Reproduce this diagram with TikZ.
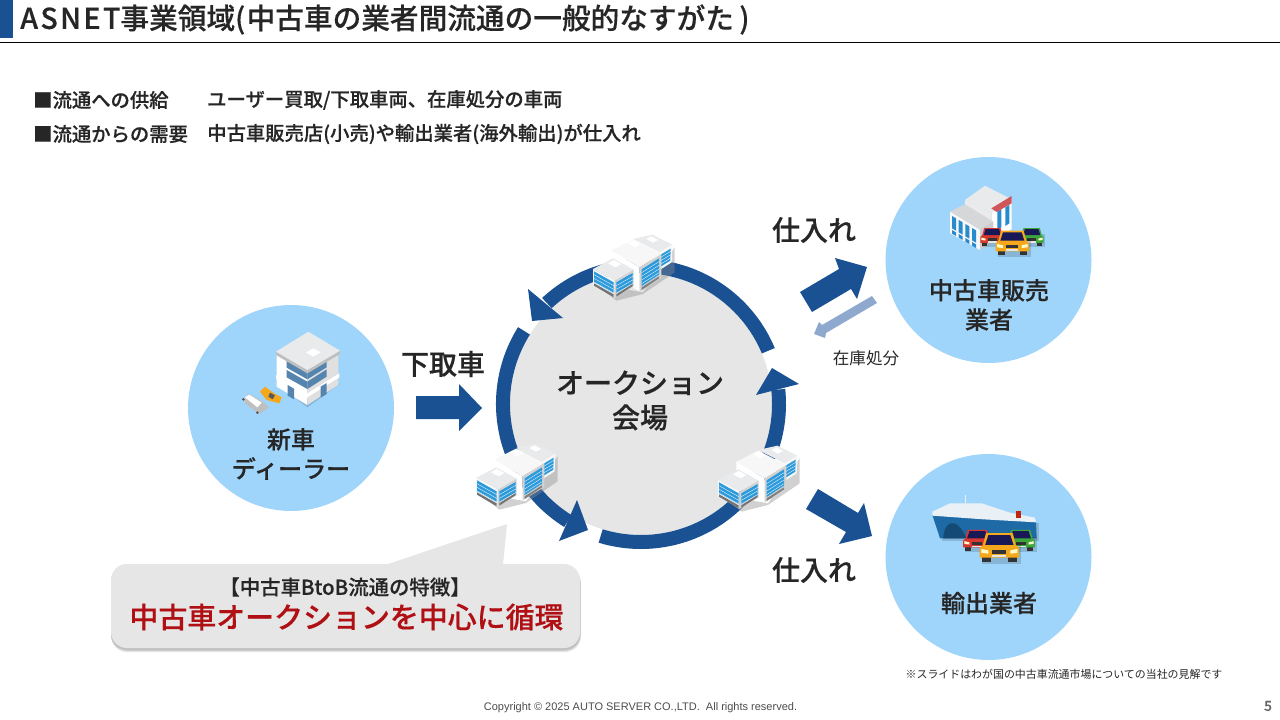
\documentclass[tikz,border=0pt]{standalone}
\usepackage{fontspec}
\setmainfont{Noto Sans CJK JP}[BoldFont={Noto Sans CJK JP Medium},BoldFeatures={FakeBold=0.35}]
\newfontfamily\latinfont{Liberation Sans}
\usetikzlibrary{calc}
\definecolor{navy}{HTML}{1A5193}
\definecolor{sky}{HTML}{9FD5FB}
\definecolor{pale}{HTML}{E6E6E6}
\definecolor{ink}{HTML}{262626}
\definecolor{win}{HTML}{2C9ADB}
\definecolor{lightarrow}{HTML}{8FA9CE}
\definecolor{crimson}{HTML}{B00F14}
\definecolor{roofg}{HTML}{E8EAEC}
\definecolor{wallg}{HTML}{F7F7F7}
\definecolor{hull}{HTML}{1E6AA6}
\definecolor{carred}{HTML}{D8372F}
\definecolor{cargreen}{HTML}{3DA63B}
\definecolor{caryel}{HTML}{F6A81C}
\definecolor{deck}{HTML}{E9F1F6}
\definecolor{steel}{HTML}{5585AE}
\newcommand\band[3]{\fill[navy] ([shift={(#1:145)}]641,404) arc[start angle=#1,end angle=#2,radius=145] -- ([shift={(#2:131)}]641,404) arc[start angle=#2,end angle=#1,radius=131] -- cycle; \fill[navy] #3 -- cycle;}
\newcommand\carat[4]{\begin{scope}[shift={(#1,#2)},scale=#3,line join=round]
  \fill[black,opacity=.15] (-44,-10) rectangle (56,42);
  \fill[black!80] (-44,18) rectangle (-22,38);
  \fill[black!80] (22,18) rectangle (44,38);
  \fill[#4] (-34,-36) -- (34,-36) -- (42,-6) -- (50,2) -- (50,26) -- (-50,26) -- (-50,2) -- (-42,-6) -- cycle;
  \fill[black!70!blue!80!gray] (-28,-31) -- (28,-31) -- (36,-6) -- (-36,-6) -- cycle;
  \fill[white!80!yellow] (-46,4) -- (-28,8) -- (-28,16) -- (-46,14) -- cycle;
  \fill[white!80!yellow] (46,4) -- (28,8) -- (28,16) -- (46,14) -- cycle;
  \fill[black!80] (-18,6) rectangle (18,17);
  \fill[white!90!black] (-18,20) rectangle (18,25);
\end{scope}}
\tikzset{
 lbl/.style={inner sep=0pt,text=ink,font=\bfseries,align=center},
 bigl/.style={lbl,font=\fontsize{21}{26}\selectfont\bfseries},
 midl/.style={lbl,font=\fontsize{18}{22}\selectfont\bfseries},
 bull/.style={lbl,anchor=west,font=\fontsize{14.5}{17}\selectfont\bfseries},
 smalll/.style={inner sep=0pt,text=ink,font=\fontsize{8.2}{10}\selectfont},
 bld/.pic={\begin{scope}[scale=1/3,line join=round]
  \fill[black!45,opacity=.4] (8,150) -- (70,200) -- (150,180) -- (245,115) -- (245,40) -- (150,175) -- cycle;
  % rear block
  \fill[roofg] (120,15) -- (178,2) -- (238,32) -- (200,55) -- cycle;
  \fill[wallg] (200,55) -- (238,32) -- (236,85) -- (200,108) -- cycle;
  \fill[win] (203,62) -- (233,44) -- (232,80) -- (203,98) -- cycle;
  \foreach \k in {0,10,20}{\draw[white,line width=.25pt] (203,70+\k) -- (233,52+\k);}
  % tall block
  \fill[wallg] (55,50) -- (120,17) -- (205,60) -- (140,100) -- cycle;
  \fill[white] (55,50) -- (140,100) -- (140,172) -- (55,122) -- cycle;
  \fill[wallg!85!black] (140,100) -- (205,60) -- (205,132) -- (140,172) -- cycle;
  \fill[win] (146,106) -- (198,73) -- (198,122) -- (146,156) -- cycle;
  \foreach \k in {0,11,22,33}{\draw[white,line width=.25pt] (146,116+\k) -- (198,83+\k);}
  % front block
  \fill[roofg] (0,105) -- (60,73) -- (122,107) -- (65,140) -- cycle;
  \fill[wallg] (0,105) -- (65,140) -- (65,192) -- (0,152) -- cycle;
  \fill[wallg!85!black] (65,140) -- (122,107) -- (122,157) -- (65,192) -- cycle;
  \fill[win] (3,112) -- (62,145) -- (62,178) -- (3,145) -- cycle;
  \fill[win] (70,145) -- (119,117) -- (119,148) -- (70,178) -- cycle;
  \foreach \k in {0,11,22}{\draw[white,line width=.25pt] (3,122+\k) -- (62,155+\k); \draw[white,line width=.25pt] (70,155+\k) -- (119,127+\k);}
  \fill[black!55] (3,148) -- (62,181) -- (62,190) -- (3,155) -- cycle;
  \fill[black!55] (70,181) -- (119,150) -- (119,156) -- (70,188) -- cycle;
  \fill[black!50] (146,160) -- (198,127) -- (198,133) -- (146,168) -- cycle;
  \fill[white] (45,88) -- (62,78) -- (85,90) -- (68,100) -- cycle;
  \fill[white] (105,28) -- (122,18) -- (143,30) -- (126,40) -- cycle;
  \fill[white] (160,15) -- (175,7) -- (195,18) -- (180,26) -- cycle;
 \end{scope}},
 storeicon/.pic={\begin{scope}[scale=1/3,line join=round]
  \fill[roofg] (555,90) -- (615,47) -- (695,88) -- (635,128) -- cycle;
  \fill[white] (635,128) -- (695,88) -- (695,178) -- (635,212) -- cycle;
  \fill[win!80!navy] (652,125) -- (664,118) -- (664,172) -- (652,180) -- cycle;
  \fill[win!80!navy] (676,112) -- (688,105) -- (688,160) -- (676,168) -- cycle;
  \fill[white!92!black] (555,90) -- (635,128) -- (635,160) -- (555,115) -- cycle;
  \fill[roofg!92!black] (510,125) -- (555,103) -- (640,155) -- (600,180) -- cycle;
  \fill[wallg] (510,125) -- (600,180) -- (600,240) -- (510,190) -- cycle;
  \fill[black!20] (600,180) -- (640,155) -- (640,215) -- (600,240) -- cycle;
  \foreach \x/\d in {516/0,536/12,556/24,576/36}{\fill[win!80!navy] (\x,{138+\d}) -- (\x+12,{145+\d}) -- (\x+12,{182+\d}) -- (\x,{175+\d}) -- cycle;}
  \foreach \x/\d in {516/0,536/12,556/24,576/36}{\fill[win!80!navy] (\x,{180+\d}) -- (\x+12,{187+\d}) -- (\x+12,{198+\d}) -- (\x,{191+\d}) -- cycle;}
  \fill[crimson!60!pink] (634,115) -- (695,78) -- (695,100) -- (650,126) -- cycle;
  \carat{755}{200}{.72}{cargreen}
  \carat{637}{200}{.72}{carred}
  \carat{697}{218}{1}{caryel}
 \end{scope}},
 shipicon/.pic={\begin{scope}[scale=1/3,line join=round]
  \fill[black,opacity=.15] (125,160) rectangle (418,212);
  \fill[hull] (97,135) -- (120,205) -- (410,205) -- (408,155) -- cycle;
  \fill[hull!70!black] (130,205) .. controls (130,160) and (165,130) .. (200,205) -- cycle;
  \fill[deck] (97,125) -- (150,100) -- (245,100) -- (330,128) -- (405,143) -- (408,157) -- (250,148) -- (97,137) -- cycle;
  \draw[deck,line width=.5pt] (195,100) -- (195,75);
  \fill[crimson!80!orange] (348,122) rectangle (362,143);
  \carat{362}{210}{.85}{cargreen}
  \carat{232}{210}{.85}{carred}
  \carat{298}{232}{1.18}{caryel}
 \end{scope}},
 dealericon/.pic={\begin{scope}[scale=1/3,line join=round]
  \fill[black,opacity=.15] (175,195) -- (262,262) -- (362,190) -- (262,240) -- cycle;
  \fill[white] (170,105) -- (262,160) -- (262,255) -- (170,200) -- cycle;
  \fill[black!12] (262,160) -- (355,100) -- (355,195) -- (262,255) -- cycle;
  \fill[steel] (200,120) -- (262,155) -- (262,178) -- (200,143) -- cycle;
  \fill[steel] (200,150) -- (262,185) -- (262,207) -- (200,172) -- cycle;
  \fill[steel] (262,155) -- (320,118) -- (320,142) -- (262,178) -- cycle;
  \fill[steel] (262,185) -- (320,148) -- (320,170) -- (262,207) -- cycle;
  \fill[white] (168,165) -- (262,220) -- (358,160) -- (358,172) -- (262,232) -- (168,177) -- cycle;
  \fill[steel] (203,195) -- (222,206) -- (222,238) -- (203,227) -- cycle;
  \fill[steel] (302,200) -- (320,189) -- (320,222) -- (302,233) -- cycle;
  \fill[black!25] (168,95) -- (262,150) -- (360,92) -- (360,102) -- (262,160) -- (168,105) -- cycle;
  \fill[roofg] (168,95) -- (265,35) -- (360,92) -- (262,150) -- cycle;
  \fill[white] (258,97) -- (280,85) -- (302,97) -- (280,110) -- cycle;
  % yellow van
  \fill[caryel] (120,215) -- (135,200) -- (165,222) -- (185,232) -- (178,250) -- (140,240) -- cycle;
  \fill[black!65] (150,218) -- (165,226) -- (158,238) -- (145,230) -- cycle;
  % white car
  \fill[black!25] (70,238) -- (88,222) -- (130,246) -- (146,262) -- (118,282) -- (78,252) -- cycle;
  \fill[white] (75,232) -- (88,224) -- (125,248) -- (112,262) -- cycle;
  \fill[black!70] (70,238) circle (4) (112,278) circle (4);
 \end{scope}}
}
\begin{document}
\begin{tikzpicture}[x=.75pt,y=-.75pt]
\useasboundingbox (0,0) rectangle (1280,720);
% header
\fill[navy] (0,0) rectangle (12.5,38.5);
\draw[black,line width=1pt] (0,42.5) -- (1280,42.5);
\node[lbl,anchor=west,font=\fontsize{21.5}{26}\selectfont\bfseries] (title) at (20,19.5) {{\addfontfeature{LetterSpace=8}ASNET}事業領域(\kern1pt 中古車の業者間流通の一般的なすがた\kern4pt)};
\node[bull] (b1) at (33,100) {■流通への供給};
\node[bull] (b1b) at (207,100) {ユーザー買取/下取車両、在庫処分の車両};
\node[bull] (b2) at (33,134) {■流通からの需要};
\node[bull] (b2b) at (207,134) {中古車販売店(小売)や輸出業者(海外輸出)が仕入れ};
% circles
\fill[sky] (291,408) circle (103);
\fill[sky] (988.5,260) circle (103);
\fill[sky] (988.5,557) circle (103);
\fill[pale] (641,404) circle (131);
% ring arrows
\band{-22.7}{-133}{(528,289) -- (532,321) -- (563,318)}
\band{212}{122}{(577,500) -- (588,530) -- (559,541)}
\band{107}{-6}{(756,395) -- (772,368) -- (799,384)}
% block arrows
\fill[navy] (416,396) -- (459,396) -- (459,384) -- (482,408) -- (459,431) -- (459,419) -- (416,419) -- cycle;
\fill[navy] (800,292) -- (839,269) -- (835,258) -- (867,267) -- (857,299) -- (851,289) -- (812,312) -- cycle;
\fill[navy] (818,489) -- (858,513) -- (864,503) -- (872,536) -- (839,544) -- (846,532) -- (806,509) -- cycle;
\fill[lightarrow] (872,296) -- (877,303) -- (826,333) -- (825,338) -- (814,334) -- (819,322) -- (822,325) -- cycle;
% callout
\fill[black!55,opacity=.2,rounded corners=12] (111,568) rectangle (581,652);
\fill[black!55,opacity=.3,rounded corners=12] (111,566) rectangle (580.5,650.5);
\fill[pale,rounded corners=12] (111,564) rectangle (580,648);
\fill[pale] (385,565) -- (507,524) -- (503,565) -- cycle;
% icons
\pic at (593,234) {bld};
\pic at (476,443) {bld};
\pic at (718,445) {bld};
\pic at (780,170) {storeicon};
\pic at (900,470) {shipicon};
\pic at (220,320) {dealericon};
% labels
\node[bigl] (auction) at (640,400.5) {オークション\\会場};
\node[bigl] (shita) at (443,364) {下取車};
\node[bigl] (shi1) at (814,230) {仕入れ};
\node[bigl] (shi2) at (814,570) {仕入れ};
\node[midl] (dealer) at (291,454) {新車\\ディーラー};
\node[midl] (used) at (989,305) {中古車販売\\業者};
\node[midl] (export) at (989,603) {輸出業者};
\node[lbl,font=\fontsize{12.4}{15}\selectfont] (stock) at (866,358) {在庫処分};
\node[lbl,font=\fontsize{15.3}{17}\selectfont\bfseries] (feat) at (345,587) {【中古車BtoB流通の特徴】};
\node[lbl,text=crimson,font=\fontsize{21.7}{26}\selectfont\bfseries] (red) at (346.5,617) {中古車オークションを中心に循環};
\node[smalll] (note) at (1064,674) {※スライドはわが国の中古車流通市場についての当社の見解です};
\node[inner sep=0pt,text=black!70,font=\latinfont\fontsize{8.25}{10}\selectfont] (copy) at (640.5,708) {Copyright © 2025 AUTO SERVER CO.,LTD.~~All rights reserved.};
\node[inner sep=0pt,text=black!60,font=\fontsize{10.5}{12}\selectfont\bfseries] (page) at (1268,706) {5};
\end{tikzpicture}
\end{document}
